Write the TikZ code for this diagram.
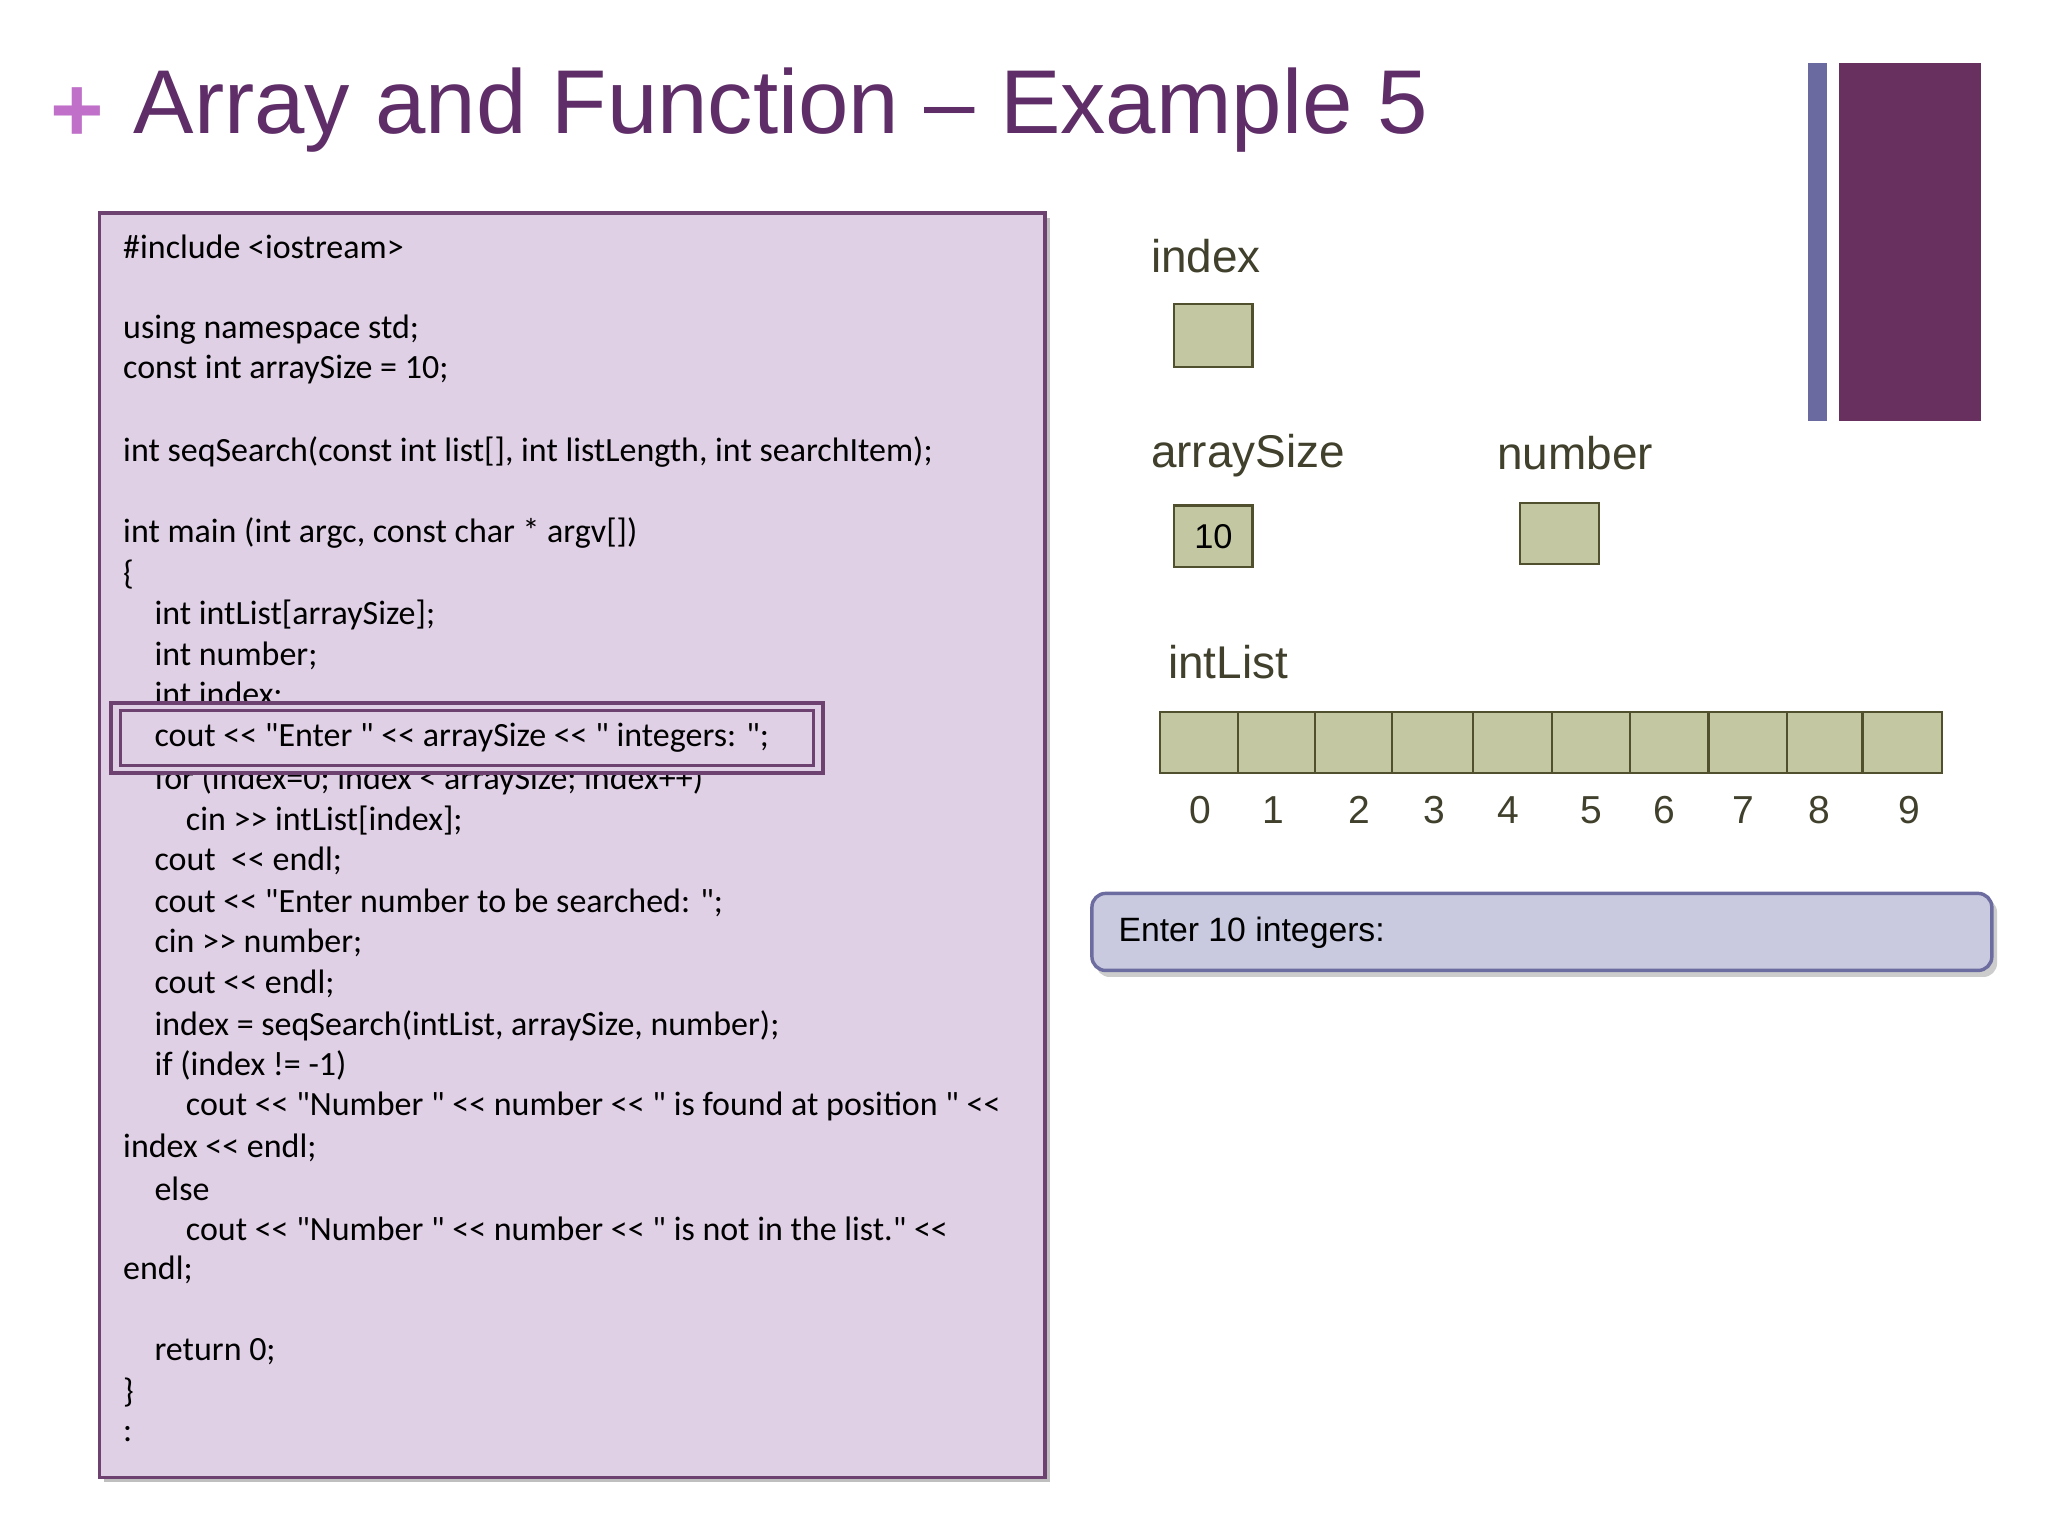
\documentclass[tikz,border=0pt]{standalone}
\usepackage{fontspec}
\setmainfont{Carlito}[Ligatures=TeXOff]
\newfontfamily\arialf{Liberation Sans}
\definecolor{codebg}{HTML}{E0D0E5}
\definecolor{codeframe}{HTML}{6E4270}
\definecolor{titlec}{HTML}{5F2E68}
\definecolor{plusc}{HTML}{C070C8}
\definecolor{barblue}{HTML}{6A6AA0}
\definecolor{barpurple}{HTML}{67305F}
\definecolor{cellfill}{HTML}{C4C8A2}
\definecolor{celldraw}{HTML}{50502E}
\definecolor{labc}{HTML}{40402C}
\definecolor{outfill}{HTML}{C9C9DF}
\definecolor{outdraw}{HTML}{6C6CA0}
\begin{document}
\begin{tikzpicture}[x=0.02cm,y=-0.02cm,
  code/.style={anchor=west,inner sep=0pt,font=\fontsize{14.8}{16}\selectfont},
  cell/.style={fill=cellfill,draw=celldraw,line width=1pt},
  lab/.style={anchor=west,inner sep=0pt,text=labc,font=\arialf\fontsize{20}{24}\selectfont},
  digit/.style={inner sep=0pt,text=labc,font=\arialf\fontsize{17}{20}\selectfont}]
\useasboundingbox (0,0) rectangle (1568,1176);
\fill[white] (0,0) rectangle (1568,1176);
% title
\node[anchor=west,inner sep=0pt,text=plusc,font=\arialf\bfseries\fontsize{40}{44}\selectfont] (plus) at (38,88) {+};
\node[anchor=west,inner sep=0pt,text=titlec,font=\arialf\fontsize{39.5}{46}\selectfont] (title) at (102,84) {Array and Function – Example 5};
% bars
\fill[barblue] (1384,48) rectangle (1399,322);
\fill[barpurple] (1408,48) rectangle (1517,322);
% code box
\fill[black!25] (80,167) rectangle (804,1135);
\draw[codeframe,fill=codebg,line width=1.5pt] (76,163) rectangle (800,1131);
\foreach \y/\t in {189/{\#include <iostream>},252/{using namespace std;},283/{const int arraySize = 10;},346/{int seqSearch(const int list[], int listLength, int searchItem);},408/{int main (int argc, const char * argv[])},440/{\{},879/{index << endl;},972/{endl;},1066/{\}},1098/{:}}
  \node[code] at (94,\y) {\t};
\foreach \y/\t in {471/{int intList[arraySize];},502/{int number;},533/{int index;},597/{for (index=0; index < arraySize; index++)},659/{cout~ << endl;},691/{cout << "Enter number to be searched: ";},722/{cin >> number;},753/{cout << endl;},785/{index = seqSearch(intList, arraySize, number);},816/{if (index != -1)},910/{else},1035/{return 0;}}
  \node[code] at (118,\y) {\t};
\foreach \y/\t in {628/{cin >> intList[index];},847/{cout << "Number " << number << " is found at position " <<},941/{cout << "Number " << number << " is not in the list." <<}}
  \node[code] at (142,\y) {\t};
% highlight
\fill[codebg] (85,538) rectangle (630,592);
\draw[codeframe,line width=1.8pt] (85,538) rectangle (630,592);
\draw[codeframe,line width=1.2pt] (92,544) rectangle (623,586);
\node[code] (hl) at (118,565) {cout << "Enter " << arraySize << " integers: ";};
% variables
\node[lab] (lindex) at (881,196) {index};
\draw[cell] (899,233) rectangle (959,281);
\node[lab] (lsize) at (881,349) {arraySize};
\draw[cell] (899,387) rectangle (959,434);
\node[inner sep=0pt,font=\arialf\fontsize{15}{18}\selectfont] (vsize) at (929,411) {10};
\node[lab] (lnum) at (1146,347) {number};
\draw[cell] (1164,385) rectangle (1224,432);
\node[lab] (llist) at (894,507) {intList};
\draw[cell] (888,545) rectangle (1487,592);
\foreach \x in {948,1007,1066,1128,1188,1248,1308,1368,1426}
  \draw[celldraw,line width=1pt] (\x,545) -- (\x,592);
\foreach \x/\d in {919/0,975/1,1041/2,1098/3,1155/4,1218/5,1274/6,1335/7,1393/8,1462/9}
  \node[digit] at (\x,620) {\d};
% output
\fill[black!20,rounded corners=6] (839,688) rectangle (1529,748);
\draw[outdraw,fill=outfill,line width=1.5pt,rounded corners=6] (836,684) rectangle (1525,743);
\node[anchor=west,inner sep=0pt,font=\arialf\fontsize{14.7}{18}\selectfont] (out) at (856,714) {Enter 10 integers:};
\end{tikzpicture}
\end{document}
